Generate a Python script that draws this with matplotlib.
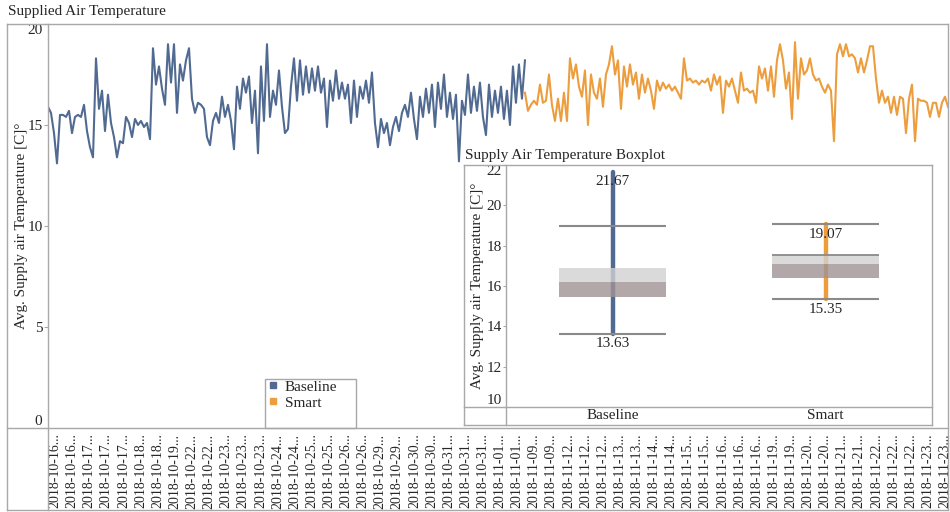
import matplotlib
matplotlib.use("Agg")
import matplotlib.pyplot as plt
from matplotlib.lines import Line2D
from matplotlib.patches import Rectangle
import numpy as np

plt.rcParams['font.family'] = ['Liberation Serif', 'DejaVu Serif']

# category labels along the time axis (truncated in the original)
tick_dates = ['2018-10-16', '2018-10-16', '2018-10-17', '2018-10-17', '2018-10-17',
              '2018-10-18', '2018-10-18', '2018-10-19', '2018-10-22', '2018-10-22',
              '2018-10-23', '2018-10-23', '2018-10-23', '2018-10-24', '2018-10-24',
              '2018-10-25', '2018-10-25', '2018-10-26', '2018-10-26', '2018-10-29',
              '2018-10-29', '2018-10-30', '2018-10-30', '2018-10-31', '2018-10-31',
              '2018-10-31', '2018-11-01', '2018-11-01', '2018-11-09', '2018-11-09',
              '2018-11-12', '2018-11-12', '2018-11-12', '2018-11-13', '2018-11-13',
              '2018-11-14', '2018-11-14', '2018-11-15', '2018-11-15', '2018-11-16',
              '2018-11-16', '2018-11-16', '2018-11-19', '2018-11-19', '2018-11-20',
              '2018-11-20', '2018-11-21', '2018-11-21', '2018-11-22', '2018-11-22',
              '2018-11-22', '2018-11-23', '2018-11-23']

# supply air temperature
baseline_temp = [
    15.9, 15.6, 14.6, 13.1, 15.5, 15.5, 15.4, 15.7, 14.6, 15.4,
    15.5, 15.4, 16.0, 14.7, 13.9, 13.4, 18.3, 15.8, 16.7, 14.7,
    16.5, 15.1, 14.4, 13.4, 14.2, 14.1, 15.4, 15.1, 14.4, 15.3,
    15.0, 15.2, 14.9, 15.1, 14.3, 18.8, 17.0, 17.9, 16.8, 16.0,
    19.0, 17.1, 19.0, 15.6, 18.0, 17.2, 18.2, 18.8, 16.3, 15.6,
    16.1, 16.0, 15.8, 14.4, 14.0, 15.2, 15.6, 15.1, 16.4, 15.4,
    16.0, 15.2, 13.8, 16.9, 15.8, 17.3, 16.6, 17.4, 15.1, 16.7,
    13.6, 17.9, 15.2, 19.0, 15.4, 16.7, 16.0, 17.7, 15.9, 14.6,
    14.8, 16.9, 18.3, 16.2, 18.2, 16.5, 17.9, 16.6, 17.8, 16.7,
    17.9, 16.6, 17.3, 14.9, 17.2, 16.2, 17.7, 16.3, 17.1, 16.3,
    17.0, 15.1, 17.2, 15.4, 16.9, 16.3, 17.2, 16.1, 17.6, 15.1,
    13.9, 15.3, 14.6, 15.1, 14.0, 14.9, 15.4, 14.7, 15.6, 16.0,
    15.4, 16.6, 15.3, 14.3, 16.4, 15.4, 16.8, 15.6, 17.0, 14.9,
    17.1, 15.8, 17.5, 15.4, 16.6, 15.3, 16.5, 13.2, 16.2, 15.5,
    17.5, 15.6, 16.9, 15.7, 17.1, 15.4, 14.5, 17.0, 15.4, 16.7,
    15.6, 16.9, 15.3, 16.7, 15.0, 17.9, 16.1, 18.0, 16.3, 18.2,
]
smart_temp = [
    16.6, 15.7, 16.0, 16.2, 16.0, 17.0, 16.1, 16.2, 17.5, 16.0,
    15.2, 16.3, 15.2, 16.6, 15.2, 18.3, 17.3, 18.0, 16.9, 16.4,
    17.7, 15.0, 17.5, 16.6, 16.3, 17.3, 15.9, 17.5, 18.0, 18.9,
    17.5, 18.2, 15.8, 17.9, 16.9, 18.0, 17.0, 17.6, 16.3, 17.5,
    16.6, 17.3, 16.7, 15.8, 17.2, 16.7, 17.1, 16.8, 17.0, 16.7,
    16.9, 16.6, 16.3, 18.3, 17.2, 17.3, 17.1, 17.2, 17.0, 17.2,
    17.1, 17.3, 16.7, 17.5, 17.0, 17.4, 15.6, 17.2, 16.9, 17.3,
    16.7, 16.1, 17.6, 16.7, 16.8, 16.6, 16.7, 16.1, 17.9, 17.3,
    17.8, 16.7, 17.9, 16.4, 18.2, 19.0, 18.2, 16.8, 17.6, 15.3,
    19.1, 16.3, 18.3, 17.5, 17.7, 18.3, 17.5, 17.2, 17.3, 16.9,
    16.6, 17.0, 16.7, 14.2, 18.5, 19.0, 18.4, 19.0, 18.4, 18.5,
    18.3, 17.6, 18.3, 17.6, 18.2, 18.9, 18.9, 17.3, 16.1, 16.7,
    16.1, 16.4, 15.6, 16.4, 15.5, 16.4, 16.3, 14.6, 16.3, 17.0,
    14.2, 16.3, 16.2, 16.2, 16.1, 15.4, 16.1, 16.1, 15.4, 16.1,
    16.4, 15.9,
]

# boxplot summary
groups = ['Baseline', 'Smart']
box_q1 = [15.47, 16.41]
box_median = [16.21, 17.10]
box_q3 = [16.91, 17.55]
whisker_low = [13.63, 15.35]
whisker_high = [19.00, 19.07]
range_min = [13.63, 15.35]
range_max = [21.67, 19.07]

BLUE = '#516a91'
ORANGE = '#ec9d3e'
FRAME = '#a8a8a8'
TXT = '#262626'
colors = [BLUE, ORANGE]

W, H = 950, 512
fig = plt.figure(figsize=(9.5, 5.12), dpi=100)


def fx(px):
    return px / W


def fy(py):
    return 1 - py / H


def frame_line(x0, y0, x1, y1):
    fig.add_artist(Line2D([fx(x0), fx(x1)], [fy(y0), fy(y1)], color=FRAME, lw=1.0,
                          transform=fig.transFigure, zorder=3))


# ---- main time series ----
ax = fig.add_axes([fx(48), fy(428), fx(948) - fx(48), fy(24) - fy(428)], zorder=0)
x_lo, x_hi, x_split = -0.41, 52.18, 27.46
xb = np.linspace(x_lo, x_split, len(baseline_temp))
xs = np.linspace(x_split, x_hi, len(smart_temp))
ax.plot(xb, baseline_temp, color=BLUE, lw=1.5)
ax.plot(xs, smart_temp, color=ORANGE, lw=1.5)
ax.set_xlim(x_lo, x_hi)
ax.set_ylim(0, 20)
for s in ax.spines.values():
    s.set_visible(False)

ax.set_yticks([0, 5, 10, 15, 20])
ax.set_yticklabels(['0', '5', '10', '15', '20'], fontsize=11, color=TXT)
ax.get_yticklabels()[0].set_va('bottom')
ax.get_yticklabels()[-1].set_va('top')
ax.tick_params(axis='y', length=3, width=0.8, color=FRAME, pad=1)

ax.set_xticks(range(len(tick_dates)))
ax.set_xticklabels([d + '...' for d in tick_dates], rotation=90, fontsize=10, color=TXT)
ax.tick_params(axis='x', length=0, pad=4)

fig.text(fx(8), fy(12), 'Supplied Air Temperature', fontsize=11, color=TXT, va='center')
fig.text(fx(22), fy(226), 'Avg. Supply air Temperature [C]°', rotation=90, fontsize=11,
         color=TXT, va='center', ha='center')

# frame of the main view
frame_line(7, 24, 948, 24)
frame_line(7, 510, 948, 510)
frame_line(7, 24, 7, 510)
frame_line(948, 24, 948, 510)
frame_line(48, 24, 48, 510)
frame_line(7, 428, 948, 428)

# legend
handles = [Line2D([], [], marker='s', ls='', color=c, markersize=4.5) for c in colors]
ax.add_patch(Rectangle(((265 - 48) / 900, 0), 91 / 900, 49 / 404, transform=ax.transAxes,
                       facecolor='white', edgecolor=FRAME, lw=1.0, clip_on=False, zorder=4))
leg = ax.legend(handles, groups, loc='upper left', bbox_to_anchor=((268 - 48) / 900, (428 - 380) / 404),
                frameon=False, borderpad=0, fontsize=11, handlelength=0.6, handletextpad=0.5,
                labelspacing=0.15, borderaxespad=0)
leg.set_zorder(5)
for t in leg.get_texts():
    t.set_color(TXT)

# ---- inset boxplot ----
fig.add_artist(Rectangle((fx(464), fy(425)), fx(932) - fx(464), fy(165) - fy(425),
                         transform=fig.transFigure, facecolor='white', edgecolor='none', zorder=1))
ins = fig.add_axes([fx(506), fy(407), fx(932) - fx(506), fy(165) - fy(407)], zorder=2)
ins.set_xlim(-0.5, 1.5)
ins.set_ylim(10, 22)
for s in ins.spines.values():
    s.set_visible(False)

for i in range(len(groups)):
    ins.plot([i, i], [range_min[i], range_max[i]], color=colors[i], lw=3.2,
             solid_capstyle='round', zorder=2)
    ins.bar(i, box_median[i] - box_q1[i], bottom=box_q1[i], width=0.5,
            color='#9f9395', alpha=0.8, zorder=3)
    ins.bar(i, box_q3[i] - box_median[i], bottom=box_median[i], width=0.5,
            color='#d1d1d1', alpha=0.8, zorder=3)
    ins.hlines([whisker_low[i], whisker_high[i]], i - 0.25, i + 0.25, color='#8a8a8a',
               lw=1.5, zorder=4)
    for v in (range_max[i], range_min[i]):
        ins.annotate(f'{v:.2f}', (i, v), xytext=(0, -2.5), textcoords='offset points',
                     ha='center', va='top', fontsize=11, color=TXT, zorder=5)
ins.hlines(box_q3[1], 0.75, 1.25, color='#8a8a8a', lw=1.3, zorder=4)

ins.set_yticks(range(10, 23, 2))
ins.set_yticklabels([str(v) for v in range(10, 23, 2)], fontsize=11, color=TXT)
ins.get_yticklabels()[0].set_va('bottom')
ins.get_yticklabels()[-1].set_va('top')
ins.tick_params(axis='y', length=2, width=0.8, color=FRAME, pad=1)
ins.set_xticks([0, 1])
ins.set_xticklabels(groups, fontsize=11, color=TXT)
ins.tick_params(axis='x', length=0, pad=1.5)

fig.text(fx(465), fy(155), 'Supply Air Temperature Boxplot', fontsize=11, color=TXT, va='center')
fig.text(fx(477), fy(286), 'Avg. Supply air Temperature [C]°', rotation=90, fontsize=11,
         color=TXT, va='center', ha='center')

frame_line(464, 165, 932, 165)
frame_line(464, 425, 932, 425)
frame_line(464, 165, 464, 425)
frame_line(932, 165, 932, 425)
frame_line(506, 165, 506, 425)
frame_line(464, 407, 932, 407)

fig.savefig('out.png', dpi=100)
